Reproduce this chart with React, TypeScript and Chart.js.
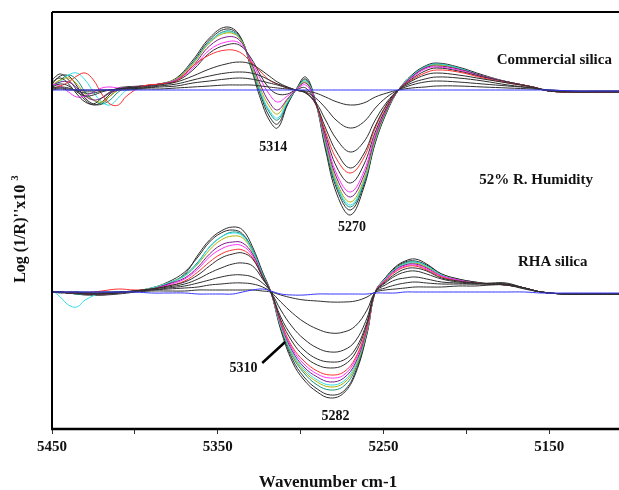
import React, { useEffect, useRef } from 'react';
import { Chart, registerables } from 'chart.js';
Chart.register(...registerables);

const FONT = '"Liberation Serif", "Times New Roman", serif';

// Wavenumber grids (cm-1)
const TOP_WN = [5450,5445,5440,5435,5430,5425,5420,5415,5410,5405, 5395,5385,5375,5365,5355,5345,5337,5330,5324,5319, 5314,5308,5303,5297,5291,5285,5278,5270,5262,5255, 5248,5241,5233,5225,5218,5205,5190,5175,5160,5150, 5135,5120,5105];
const BOT_WN = [5450,5445,5440,5435,5430,5420,5410,5400,5390,5380, 5370,5362,5355,5348,5341,5335,5329,5323,5318,5312, 5305,5298,5290,5282,5274,5267,5260,5255,5249,5243, 5237,5231,5224,5215,5205,5195,5185,5176,5165,5155, 5140,5125,5105];

// Offsets of the two stacked spectra families (arbitrary units)
const TOP_OFFSET = 202;
const BOT_OFFSET = 0;

// Commercial silica (top family)
const C0 = [0,0,0,0,0,0,0,0,0,0, 0,0,0,0,0,0,0,0,0,0, 0,0,0,0,0,0,0,0,0,0, 0,0,0,0,0,0,0,0,0,0, -1,-1,-1];
const C1 = [0,1,0,0,0,0,0,0,0,0, 1,1,2,3,4,5,5,5,4,3, 2,1,0,-1,-3,-7,-12,-15,-13,-7, -3,0,2,3,4,4,3,2,1,0, -1,-1,-1];
const C2 = [1,2,1,0,-1,-1,0,0,1,1, 2,3,4,7,9,11,12,11,9,7, 5,2,0,-2,-8,-18,-31,-38,-32,-18, -7,0,5,8,9,8,6,4,2,0, -1,-1,-1];
const C3 = [2,3,2,-1,-3,-3,-1,0,1,1, 2,4,6,10,14,17,18,17,14,10, 6,3,0,-3,-12,-30,-50,-62,-52,-30, -12,0,7,11,13,12,9,5,2,-1, -2,-2,-2];
const C4 = [3,6,4,-2,-6,-5,-2,0,1,2, 3,5,8,14,21,26,28,26,20,14, 8,3,0,-3,-14,-38,-63,-78,-64,-36, -14,0,9,15,17,15,11,7,3,-1, -2,-2,-2];
const C5 = [2,4,8,14,17,10,-4,-14,-15,-6, 4,6,9,24,35,40,38,28,18,10, 6,2,0,-2,-14,-42,-70,-83,-68,-38, -15,0,10,17,20,18,12,7,3,-1, -2,-2,-2];
const C6 = [8,12,6,-4,-12,-14,-8,-2,1,2, 4,6,9,20,37,45,45,32,14,2, -4,-4,0,2,-13,-45,-78,-93,-75,-42, -17,0,11,19,22,19,13,8,3,-1, -2,-2,-2];
const C7 = [6,4,-2,-7,-6,-2,2,3,2,2, 4,6,10,22,40,48,47,30,10,-4, -12,-6,0,5,-12,-48,-85,-102,-82,-45, -18,0,12,21,23,20,13,8,3,-1, -2,-2,-2];
const C8 = [4,8,8,2,-6,-10,-8,-3,0,2, 4,6,10,24,44,53,50,28,4,-12, -20,-9,0,7,-12,-50,-89,-107,-86,-47, -19,0,13,22,24,21,14,8,3,-1, -2,-2,-2];
const C9 = [5,10,12,6,-4,-10,-12,-6,0,2, 4,6,11,26,47,57,52,26,0,-16, -24,-10,0,8,-12,-52,-93,-112,-90,-49, -20,0,13,22,25,21,14,8,3,-1, -2,-2,-2];
const C10 = [2,8,15,17,10,-2,-12,-15,-8,0, 4,6,11,27,48,58,52,25,-3,-20, -28,-12,0,9,-12,-54,-95,-115,-92,-50, -20,0,14,23,26,22,14,8,3,-1, -2,-2,-2];
const C11 = [4,10,15,10,-2,-10,-14,-10,-2,2, 4,6,11,27,48,59,53,25,-4,-22, -30,-13,0,10,-12,-55,-97,-117,-93,-51, -21,0,14,23,26,22,14,8,3,-1, -2,-2,-2];
const C12 = [6,14,14,4,-8,-14,-14,-6,0,3, 4,6,11,28,50,61,54,24,-6,-26, -34,-14,0,11,-12,-57,-100,-120,-95,-52, -21,0,14,23,26,22,14,8,3,-1, -2,-2,-2];
const C13 = [10,16,10,0,-10,-15,-12,-4,2,3, 4,6,12,30,52,63,55,22,-10,-30, -38,-15,0,13,-12,-60,-105,-125,-98,-53, -22,0,15,24,27,23,15,8,3,-1, -2,-2,-2];

// RHA silica (bottom family)
const R0 = [0,0,0,0,0,0,0,0,-1,-1, -1,-2,-2,-2,-2,0,2,3,1,-2, -3,-3,-2,-2,-2,-2,-2,-1,-1,-1, 0,0,0,0,0,0,0,0,0,-1, -1,-1,-1];
const R1 = [0,0,0,0,0,0,0,0,1,1, 1,2,2,2,2,2,2,1,0,-3, -6,-8,-9,-10,-10,-9,-5,0,2,3, 4,5,5,5,6,6,7,7,3,0, -2,-2,-2];
const R2 = [0,0,0,0,-1,-1,0,1,2,3, 4,5,7,8,9,9,8,5,0,-10, -21,-30,-37,-41,-40,-34,-18,0,4,7, 9,10,9,8,8,8,9,9,4,0, -2,-2,-2];
const R3 = [0,0,-1,-1,-1,-1,0,1,2,4, 6,9,12,15,17,17,15,9,0,-18, -35,-47,-56,-60,-58,-49,-26,0,7,12, 14,15,13,10,9,8,8,8,4,0, -2,-2,-2];
const R4 = [0,0,-1,-1,-2,-2,-1,1,3,5, 8,13,19,24,28,29,26,13,0,-25, -45,-58,-67,-70,-68,-57,-30,0,9,16, 20,21,18,13,10,9,8,8,4,0, -2,-2,-2];
const R5 = [0,0,-1,-1,-2,-2,-1,1,3,6, 10,17,26,34,38,39,33,15,0,-28, -50,-64,-73,-76,-73,-61,-32,0,10,18, 23,24,21,14,11,9,8,7,4,0, -2,-2,-2];
const R6 = [0,0,-1,-1,-1,1,3,2,3,6, 11,20,30,38,42,42,34,15,0,-30, -55,-69,-79,-83,-80,-66,-35,0,11,20, 25,26,22,15,11,9,8,7,4,0, -2,-2,-2];
const R7 = [0,0,-1,-1,-2,-2,-1,1,3,7, 13,23,35,43,47,46,36,15,0,-31, -57,-72,-82,-86,-83,-68,-36,0,12,21, 26,27,23,16,12,9,8,7,4,0, -2,-2,-2];
const R8 = [0,0,-1,-1,-2,-2,-1,1,3,8, 14,25,38,47,50,49,38,16,0,-32, -59,-75,-85,-90,-86,-71,-37,0,12,22, 27,28,24,16,12,9,8,7,4,0, -2,-2,-2];
const R9 = [2,-5,-13,-15,-8,-1,0,1,4,9, 16,29,45,55,59,56,41,17,0,-34, -61,-77,-88,-93,-89,-73,-38,0,13,23, 28,30,26,17,12,9,8,7,4,0, -2,-2,-2];
const R10 = [0,0,-1,-1,-2,-2,-1,1,4,9, 16,28,42,52,56,54,40,17,0,-34, -62,-79,-90,-95,-91,-75,-39,0,13,23, 28,29,25,17,12,9,8,7,4,0, -2,-2,-2];
const R11 = [0,0,-1,-2,-2,-2,-1,1,4,9, 17,30,45,55,60,57,42,18,0,-35, -64,-81,-93,-98,-94,-77,-40,0,13,23, 29,30,26,17,12,9,8,7,4,0, -2,-2,-2];
const R12 = [0,-1,-1,-2,-3,-3,-1,1,4,10, 20,35,50,59,62,58,42,18,0,-36, -67,-85,-97,-103,-99,-80,-41,0,14,24, 30,31,27,18,13,10,8,7,4,0, -2,-2,-2];
const R13 = [0,0,-1,-2,-2,-3,-2,0,3,8, 18,37,52,61,65,62,45,20,0,-38, -70,-88,-100,-106,-101,-82,-42,0,14,25, 31,33,28,18,13,10,8,7,4,0, -2,-2,-2];

const BLUE = '#3535ff';
const BLACK = '#2e2e2e';
const RED = '#ff3030';
const MAGENTA = '#ff30ff';
const PURPLE = '#7a1a8a';
const OLIVE = '#b0b000';
const CYAN = '#30e0e8';
const TEAL = '#109080';

const TOP_SERIES = [C0, C1, C2, C3, C4, C5, C6, C7, C8, C9, C10, C11, C12, C13];
const TOP_COLORS = [BLUE, BLACK, BLACK, BLACK, BLACK, RED, BLACK, MAGENTA, PURPLE, OLIVE, CYAN, TEAL, BLACK, BLACK];
const BOT_SERIES = [R0, R1, R2, R3, R4, R5, R6, R7, R8, R9, R10, R11, R12, R13];
const BOT_COLORS = [BLUE, BLACK, BLACK, BLACK, BLACK, BLACK, RED, MAGENTA, PURPLE, CYAN, OLIVE, TEAL, BLACK, BLACK];

const X_TICKS = [5450, 5400, 5350, 5300, 5250, 5200, 5150];
const X_LABELED = [5450, 5350, 5250, 5150];

// Annotation texts placed in data coordinates [wavenumber, value]
const LABELS: { text: string; wn: number; v: number; size: number }[] = [
  { text: 'Commercial silica', wn: 5147, v: 232, size: 15 },
  { text: '52% R. Humidity', wn: 5158, v: 112, size: 15 },
  { text: 'RHA silica', wn: 5148, v: 30, size: 15 },
  { text: '5314', wn: 5316.5, v: 145, size: 14 },
  { text: '5270', wn: 5269, v: 65, size: 14 },
  { text: '5310', wn: 5334.5, v: -76, size: 14 },
  { text: '5282', wn: 5279, v: -124, size: 14 },
];
const POINTER = { from: [5323.2, -71], to: [5309.4, -50] };

export default function App() {
  const ref = useRef<HTMLCanvasElement>(null);
  useEffect(() => {
    document.body.style.margin = '0';
    const canvas = ref.current!;
    const datasets: any[] = [];
    TOP_SERIES.forEach((s, k) => {
      datasets.push({
        data: TOP_WN.map((w, i) => ({ x: w, y: TOP_OFFSET + s[i] })),
        borderColor: TOP_COLORS[k],
        borderWidth: 1,
        pointRadius: 0,
        tension: 0.4,
        fill: false,
      });
    });
    BOT_SERIES.forEach((s, k) => {
      datasets.push({
        data: BOT_WN.map((w, i) => ({ x: w, y: BOT_OFFSET + s[i] })),
        borderColor: BOT_COLORS[k],
        borderWidth: 1,
        pointRadius: 0,
        tension: 0.4,
        fill: false,
      });
    });

    const overlay = {
      id: 'overlay',
      afterDatasetsDraw(chart: any) {
        const { ctx, chartArea: a, scales } = chart;
        const xs = scales.x;
        const ys = scales.y;
        ctx.save();
        ctx.strokeStyle = '#000';
        ctx.lineWidth = 2;
        ctx.beginPath();
        ctx.moveTo(a.left, a.top);
        ctx.lineTo(a.right, a.top);
        ctx.moveTo(a.left, a.top);
        ctx.lineTo(a.left, a.bottom + 1);
        ctx.stroke();
        ctx.lineWidth = 2.5;
        ctx.beginPath();
        ctx.moveTo(a.left - 1, a.bottom);
        ctx.lineTo(a.right, a.bottom);
        ctx.stroke();

        // pointer line for 5310
        ctx.lineWidth = 2.5;
        ctx.beginPath();
        ctx.moveTo(xs.getPixelForValue(POINTER.from[0]), ys.getPixelForValue(POINTER.from[1]));
        ctx.lineTo(xs.getPixelForValue(POINTER.to[0]), ys.getPixelForValue(POINTER.to[1]));
        ctx.stroke();

        ctx.fillStyle = '#111';
        ctx.textAlign = 'center';
        ctx.textBaseline = 'middle';
        LABELS.forEach((l) => {
          ctx.font = `bold ${l.size}px ${FONT}`;
          ctx.fillText(l.text, xs.getPixelForValue(l.wn), ys.getPixelForValue(l.v));
        });

        // x title
        ctx.font = `bold 17px ${FONT}`;
        ctx.fillText('Wavenumber cm-1', a.left + 276, a.bottom + 54);

        // y title with superscript
        ctx.translate(20, 229);
        ctx.rotate(-Math.PI / 2);
        const main = "Log (1/R)''x10 ";
        ctx.font = `bold 16px ${FONT}`;
        const w1 = ctx.measureText(main).width;
        ctx.font = `bold 11px ${FONT}`;
        const w2 = ctx.measureText('3').width;
        const start = -(w1 + w2) / 2;
        ctx.textAlign = 'left';
        ctx.font = `bold 16px ${FONT}`;
        ctx.fillText(main, start, 1);
        ctx.font = `bold 11px ${FONT}`;
        ctx.fillText('3', start + w1, -5);
        ctx.restore();
      },
    };

    const chart = new Chart(canvas, {
      type: 'line',
      data: { datasets },
      options: {
        responsive: false,
        devicePixelRatio: 1,
        animation: false,
        events: [],
        layout: { padding: { left: 52, top: 12, right: 0, bottom: 0 } },
        plugins: { legend: { display: false }, tooltip: { enabled: false } },
        scales: {
          x: {
            type: 'linear',
            reverse: true,
            min: 5108,
            max: 5450,
            afterBuildTicks: (s: any) => {
              s.ticks = X_TICKS.map((v) => ({ value: v }));
            },
            afterFit: (s: any) => {
              s.height = 61;
            },
            ticks: {
              autoSkip: false,
              maxRotation: 0,
              padding: 4,
              color: '#111',
              font: { family: FONT, size: 15, weight: 'bold' },
              callback: (v: any) => (X_LABELED.includes(Number(v)) ? String(v) : ''),
            },
            grid: { drawOnChartArea: false, drawTicks: true, tickLength: 5, color: '#333' },
            border: { display: false },
          },
          y: { display: false, min: -137, max: 280 },
        },
      },
      plugins: [overlay],
    } as any);
    return () => chart.destroy();
  }, []);
  return (
    <div style={{ width: 619, height: 490 }}>
      <canvas ref={ref} width={619} height={490} style={{ display: 'block' }} />
    </div>
  );
}
